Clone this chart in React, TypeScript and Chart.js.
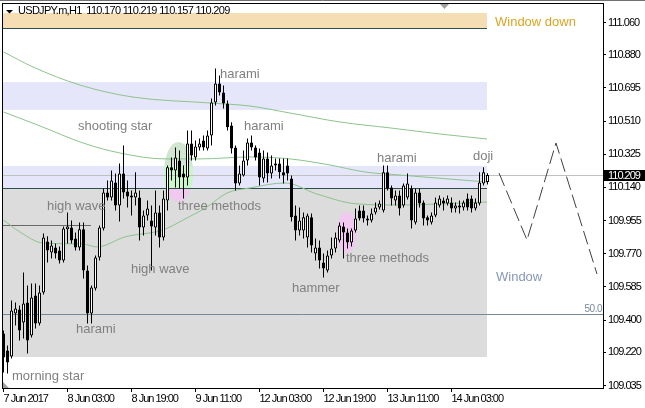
import React, { useEffect, useRef } from "react";
import { Chart, registerables } from "chart.js";

Chart.register(...registerables);

// ---- candle data (USDJPY.m, H1) ----
const opens = [
  109.325, 109.230, 109.197, 109.436, 109.459, 109.387, 109.498, 109.314, 109.537, 109.381,
  109.554, 109.838, 109.777, 109.805, 109.788, 109.732, 109.906, 109.917, 109.855, 109.805,
  109.906, 109.677, 109.436, 109.576, 109.749, 109.911, 110.112, 110.084, 110.168, 110.039,
  110.218, 110.117, 110.095, 110.084, 110.084, 109.917, 109.984, 109.956, 109.917, 110.000,
  109.861, 110.067, 110.252, 110.235, 110.290, 110.218, 110.196, 110.385, 110.307, 110.363,
  110.402, 110.357, 110.430, 110.614, 110.720, 110.670, 110.608, 110.486, 110.363, 110.162,
  110.207, 110.290, 110.391, 110.363, 110.335, 110.190, 110.301, 110.218, 110.263, 110.274,
  110.224, 110.263, 110.190, 109.984, 109.900, 109.900, 109.861, 109.973, 109.771, 109.805,
  109.721, 109.677, 109.760, 109.799, 109.844, 109.922, 109.889, 109.833, 109.900, 110.011,
  110.011, 109.956, 109.956, 110.000, 110.028, 110.011, 110.224, 110.140, 110.067, 110.095,
  110.039, 110.084, 110.134, 109.945, 110.112, 110.056, 109.973, 109.945, 109.984, 110.039,
  110.067, 110.050, 110.056, 110.022, 110.039, 110.028, 110.078, 110.078, 110.022, 110.050,
  110.162, 110.170,
];
const highs = [
  109.342, 109.258, 109.509, 109.498, 109.481, 109.666, 109.593, 109.604, 109.604, 109.593,
  109.883, 109.867, 109.844, 109.827, 109.810, 109.922, 110.000, 109.956, 109.889, 109.945,
  109.945, 109.704, 109.593, 109.760, 109.928, 110.134, 110.179, 110.235, 110.218, 110.274,
  110.374, 110.179, 110.123, 110.224, 110.123, 110.011, 110.067, 110.039, 110.123, 110.039,
  110.123, 110.263, 110.307, 110.363, 110.346, 110.263, 110.458, 110.458, 110.402, 110.413,
  110.430, 110.458, 110.636, 110.804, 110.765, 110.709, 110.625, 110.503, 110.374, 110.263,
  110.346, 110.413, 110.430, 110.374, 110.357, 110.346, 110.335, 110.318, 110.301, 110.301,
  110.301, 110.301, 110.207, 110.039, 110.028, 110.000, 109.995, 109.995, 109.855, 109.844,
  109.771, 109.788, 109.861, 109.889, 109.945, 109.945, 109.911, 109.911, 110.022, 110.039,
  110.039, 109.984, 110.022, 110.056, 110.067, 110.263, 110.263, 110.151, 110.123, 110.123,
  110.162, 110.218, 110.151, 110.134, 110.134, 110.067, 109.984, 110.000, 110.084, 110.095,
  110.084, 110.095, 110.084, 110.056, 110.067, 110.067, 110.106, 110.095, 110.078, 110.224,
  110.252, 110.219,
];
const lows = [
  109.108, 109.102, 109.185, 109.370, 109.286, 109.297, 109.213, 109.303, 109.353, 109.370,
  109.543, 109.721, 109.743, 109.743, 109.715, 109.721, 109.827, 109.827, 109.788, 109.788,
  109.632, 109.381, 109.381, 109.565, 109.732, 109.900, 110.067, 110.067, 110.011, 109.950,
  110.078, 110.028, 109.984, 110.039, 109.844, 109.872, 109.956, 109.677, 109.872, 109.805,
  109.844, 110.011, 110.179, 110.140, 110.134, 110.078, 110.151, 110.290, 110.290, 110.346,
  110.346, 110.346, 110.374, 110.597, 110.653, 110.580, 110.458, 110.329, 110.123, 110.151,
  110.201, 110.263, 110.346, 110.290, 110.151, 110.168, 110.168, 110.190, 110.235, 110.190,
  110.162, 110.179, 109.950, 109.844, 109.872, 109.855, 109.805, 109.777, 109.732, 109.688,
  109.637, 109.666, 109.743, 109.777, 109.833, 109.743, 109.799, 109.810, 109.889, 109.956,
  109.945, 109.928, 109.945, 109.989, 110.017, 110.000, 110.123, 110.039, 110.039, 109.984,
  110.028, 110.073, 109.911, 109.933, 110.028, 109.928, 109.928, 109.933, 109.973, 110.028,
  110.011, 110.039, 110.000, 110.000, 109.995, 110.011, 110.011, 110.000, 110.011, 110.039,
  110.151, 110.157,
];
const closes = [
  109.191, 109.164, 109.453, 109.464, 109.342, 109.492, 109.286, 109.526, 109.381, 109.554,
  109.861, 109.788, 109.816, 109.771, 109.732, 109.911, 109.922, 109.844, 109.805, 109.906,
  109.677, 109.436, 109.582, 109.749, 109.917, 110.112, 110.084, 110.179, 110.039, 110.218,
  110.112, 110.089, 110.084, 110.112, 109.917, 109.984, 110.022, 109.922, 110.000, 109.861,
  110.078, 110.252, 110.235, 110.307, 110.196, 110.196, 110.385, 110.318, 110.368, 110.385,
  110.363, 110.430, 110.614, 110.720, 110.670, 110.608, 110.475, 110.357, 110.162, 110.218,
  110.290, 110.391, 110.363, 110.307, 110.196, 110.301, 110.218, 110.263, 110.274, 110.224,
  110.207, 110.218, 109.973, 109.900, 109.956, 109.973, 109.984, 109.816, 109.805, 109.732,
  109.688, 109.760, 109.799, 109.861, 109.928, 109.889, 109.833, 109.900, 109.967, 109.967,
  109.967, 109.967, 109.995, 110.028, 110.050, 110.224, 110.134, 110.078, 110.095, 110.022,
  110.151, 110.162, 109.956, 110.112, 110.050, 109.967, 109.956, 109.984, 110.056, 110.078,
  110.050, 110.078, 110.022, 110.039, 110.028, 110.056, 110.028, 110.022, 110.056, 110.168,
  110.224, 110.209,
];

// ---- axes ----
const xTickIdx = [0, 16, 32, 48, 64, 80, 96, 112];
const xTickLabels = ["7 Jun 2017", "8 Jun 03:00", "8 Jun 19:00", "9 Jun 11:00", "12 Jun 03:00", "12 Jun 19:00", "13 Jun 11:00", "14 Jun 03:00"];
const yTicks = [109.035, 109.22, 109.4, 109.585, 109.77, 109.955, 110.14, 110.325, 110.51, 110.695, 110.88, 111.06];

// ---- moving averages (read at sample bars) ----
const maSlowIdx = [0, 7.375, 19.125, 32.375, 51.625, 61.625, 71.625, 84.125, 96.625, 109.125, 120.875];
const maSlowVal = [110.896, 110.812, 110.711, 110.644, 110.611, 110.594, 110.555, 110.505, 110.472, 110.438, 110.41];
const maMidIdx = [0, 9.125, 19.875, 29.125, 40.375, 49.125, 61.625, 71.625, 81.625, 90.375, 99.125, 120.875];
const maMidVal = [110.561, 110.483, 110.388, 110.332, 110.299, 110.299, 110.31, 110.299, 110.265, 110.226, 110.209, 110.17];
const maFastIdx = [0, 4.125, 9.875, 19.875, 23.375, 30.375, 39.875, 45.875, 50.875, 55.875, 61.625, 70.375, 78.375, 88.375, 99.125, 109.125, 120.875];
const maFastVal = [109.958, 109.891, 109.83, 109.824, 109.808, 109.864, 109.903, 109.97, 110.031, 110.109, 110.137, 110.165, 110.103, 110.048, 110.042, 110.048, 110.059];

// ---- projected zigzag ----
const zzIdx = [123.875, 130.875, 138.125, 148.375];
const zzVal = [110.2205, 109.8467, 110.3878, 109.657];

// ---- objects: rectangles (price ranges), lines, ellipses ----
const bandTop = [111.1147, 110.7292, 110.2595, 110.134];
const bandBottom = [111.0266, 110.5719, 110.134, 109.194];
const bandEndIdx = 120.9;
const hLinePrice = [111.0266, 110.134, 109.9276, 109.4311, 110.209];
const hLineEnd = [120.9, 120.9, 21.875, null, null];
const ellIdx = [43.75, 85.875];
const ellPrice = [110.226, 109.8885];
const ellHalfBars = [3.625, 2.5];
const ellHalfPrice = [0.1674, 0.1144];

// ---- pattern labels ----
const noteText = ["harami", "harami", "shooting star", "high wave", "three methods", "high wave", "harami", "morning star", "hammer", "three methods", "harami", "doji"];
const noteIdx = [54.125, 60.125, 18.625, 10.875, 43.625, 31.875, 18.125, 2.125, 72.125, 85.625, 93.375, 117.375];
const notePrice = [110.7504, 110.4603, 110.4603, 110.0141, 110.0141, 109.6626, 109.3279, 109.0657, 109.5566, 109.724, 110.2818, 110.293];
const windowText = ["Window down", "Window"];
const windowIdx = [122.875, 123.125];
const windowPrice = [111.0405, 109.618];

const AXISFONT = '"Liberation Sans", Arial, sans-serif';
const SANS = '"Liberation Sans", Arial, sans-serif';
const bandColors = ["#f5deb3", "#e6e6fa", "#e6e6fa", "#dcdcdc"];
const ellBandColors = ["#f0d0a8", "#c8f8c8", "#c8f8c8", "#f0c8f0"];
const hLineColors = ["#2f4f4f", "#2f4f4f", "#696969", "#778899", "#c0c0c0"];
const windowColors = ["#daa520", "#8797b8"];
const maColor = "#8cc48c";

const overlay = {
  id: "overlay",
  beforeDraw(chart: any) {
    (chart.ctx as any).letterSpacing = "-1px";
  },
  beforeDatasetsDraw(chart: any) {
    const { ctx, chartArea: a, scales } = chart;
    const X = (v: number) => scales.x.getPixelForValue(v);
    const Y = (v: number) => scales.y.getPixelForValue(v);
    ctx.save();
    ctx.letterSpacing = "0px";
    ctx.beginPath();
    ctx.rect(a.left, a.top, a.right - a.left, a.bottom - a.top);
    ctx.clip();
    const xEnd = Math.round(X(bandEndIdx));
    const bandRects = bandTop.map((t, k) => {
      const y0 = Math.round(Y(t));
      const y1 = Math.round(Y(bandBottom[k]));
      return [a.left, y0, xEnd - a.left, y1 - y0];
    });
    bandRects.forEach((r, k) => {
      ctx.fillStyle = bandColors[k];
      ctx.fillRect(r[0], r[1], r[2], r[3]);
    });
    // ellipses (xor-like tint depending on background)
    ellIdx.forEach((ix, k) => {
      const cx = X(ix);
      const cy = Y(ellPrice[k]);
      const rx = X(ix + ellHalfBars[k]) - cx;
      const ry = Y(ellPrice[k] - ellHalfPrice[k]) - cy;
      ctx.save();
      ctx.beginPath();
      ctx.ellipse(cx, cy, rx, ry, 0, 0, Math.PI * 2);
      ctx.clip();
      ctx.fillStyle = "#d0e6d0";
      ctx.fillRect(cx - rx - 1, cy - ry - 1, 2 * rx + 2, 2 * ry + 2);
      bandRects.forEach((r, b) => {
        ctx.fillStyle = ellBandColors[b];
        ctx.fillRect(r[0], r[1], r[2], r[3]);
      });
      ctx.restore();
    });
    // horizontal lines
    ctx.lineWidth = 1;
    hLinePrice.forEach((p, k) => {
      const y = Math.floor(Y(p)) + 0.5;
      const e = hLineEnd[k];
      const x1 = e == null ? a.right : Math.round(X(e));
      ctx.strokeStyle = hLineColors[k];
      ctx.beginPath();
      ctx.moveTo(a.left, y);
      ctx.lineTo(x1, y);
      ctx.stroke();
    });
    // 50.0 label of the fibo level
    ctx.font = `10px ${AXISFONT}`;
    ctx.letterSpacing = "-0.5px";
    ctx.fillStyle = "#778899";
    ctx.textAlign = "right";
    ctx.textBaseline = "alphabetic";
    ctx.fillText("50.0", a.right - 1, Math.floor(Y(hLinePrice[3])) - 2);
    ctx.restore();
  },
  afterDatasetsDraw(chart: any) {
    const { ctx, chartArea: a, scales } = chart;
    const X = (v: number) => scales.x.getPixelForValue(v);
    const Y = (v: number) => scales.y.getPixelForValue(v);
    ctx.save();
    ctx.letterSpacing = "0px";
    ctx.beginPath();
    ctx.rect(a.left, a.top, a.right - a.left, a.bottom - a.top);
    ctx.clip();
    ctx.textAlign = "left";
    ctx.textBaseline = "alphabetic";
    ctx.font = `13px ${SANS}`;
    ctx.fillStyle = "#808080";
    noteText.forEach((t, k) => ctx.fillText(t, X(noteIdx[k]), Y(notePrice[k])));
    windowText.forEach((t, k) => {
      ctx.fillStyle = windowColors[k];
      ctx.fillText(t, X(windowIdx[k]), Y(windowPrice[k]));
    });
    ctx.restore();
  },
  afterDraw(chart: any) {
    const { ctx, chartArea: a, scales } = chart;
    const Y = (v: number) => scales.y.getPixelForValue(v);
    const X = (v: number) => scales.x.getPixelForValue(v);
    const n = closes.length;
    ctx.save();
    // frame
    ctx.strokeStyle = "#000";
    ctx.lineWidth = 1;
    ctx.beginPath();
    ctx.moveTo(a.left + 0.5, a.top);
    ctx.lineTo(a.left + 0.5, a.bottom + 1);
    ctx.moveTo(a.left, a.top + 0.5);
    ctx.lineTo(a.right + 1, a.top + 0.5);
    ctx.stroke();
    ctx.strokeStyle = "#707070";
    ctx.beginPath();
    ctx.moveTo(0, 0.5);
    ctx.lineTo(645, 0.5);
    ctx.stroke();
    // chart shift marker
    const sx = Math.round(X(110.125));
    ctx.fillStyle = "#a0a0a0";
    ctx.beginPath();
    ctx.moveTo(sx - 4, a.top + 1);
    ctx.lineTo(sx + 5, a.top + 1);
    ctx.lineTo(sx + 0.5, a.top + 6);
    ctx.closePath();
    ctx.fill();
    // corner marker
    ctx.beginPath();
    ctx.moveTo(a.left + 1, a.bottom);
    ctx.lineTo(a.left + 1, a.bottom - 6);
    ctx.lineTo(a.left + 7, a.bottom);
    ctx.closePath();
    ctx.fill();
    // header
    ctx.fillStyle = "#000";
    ctx.beginPath();
    ctx.moveTo(6, 10);
    ctx.lineTo(13, 10);
    ctx.lineTo(9.5, 13.5);
    ctx.closePath();
    ctx.fill();
    ctx.font = `11px ${AXISFONT}`;
    ctx.letterSpacing = "-0.7px";
    ctx.textAlign = "left";
    ctx.textBaseline = "alphabetic";
    const hdr = `USDJPY.m,H1  ${opens[n - 1].toFixed(3)} ${highs[n - 1].toFixed(3)} ${lows[n - 1].toFixed(3)} ${closes[n - 1].toFixed(3)}`;
    ctx.fillText(hdr, 18, 14);
    // current price label
    const py = Math.floor(Y(closes[n - 1]));
    ctx.fillStyle = "#000";
    ctx.fillRect(a.right + 1, py - 5, 42, 11);
    ctx.fillStyle = "#fff";
    ctx.letterSpacing = "-1px";
    ctx.textBaseline = "middle";
    ctx.fillText(closes[n - 1].toFixed(3), a.right + 5, py + 1);
    ctx.restore();
    (ctx as any).letterSpacing = "0px";
  },
};

export default function App() {
  const ref = useRef<HTMLCanvasElement>(null);
  useEffect(() => {
    document.body.style.margin = "0";
    const canvas = ref.current as HTMLCanvasElement;
    const idx = opens.map((_, i) => i);
    const up = idx.map((i) => closes[i] >= opens[i]);
    const chart = new Chart(canvas, {
      type: "bar",
      data: {
        datasets: [
          {
            type: "bar",
            label: "body",
            data: idx.map((i) => ({ x: i, y: [Math.min(opens[i], closes[i]), Math.max(opens[i], closes[i])] })) as any,
            backgroundColor: idx.map((i) => (up[i] ? "#ffffff" : "#000000")),
            borderColor: "#000000",
            borderWidth: 1,
            borderSkipped: false,
            barThickness: 3,
            grouped: false,
            minBarLength: 1,
            inflateAmount: 0,
            order: 0,
          } as any,
          {
            type: "bar",
            label: "wick",
            data: idx.map((i) => ({ x: i, y: [lows[i], highs[i]] })) as any,
            backgroundColor: "#000000",
            borderWidth: 0,
            barThickness: 1,
            grouped: false,
            inflateAmount: 0,
            order: 1,
          } as any,
          {
            type: "line",
            label: "ma slow",
            data: maSlowIdx.map((v, k) => ({ x: v, y: maSlowVal[k] })),
            borderColor: maColor,
            borderWidth: 1,
            pointRadius: 0,
            cubicInterpolationMode: "monotone",
            order: 2,
          } as any,
          {
            type: "line",
            label: "ma mid",
            data: maMidIdx.map((v, k) => ({ x: v, y: maMidVal[k] })),
            borderColor: maColor,
            borderWidth: 1,
            pointRadius: 0,
            cubicInterpolationMode: "monotone",
            order: 2,
          } as any,
          {
            type: "line",
            label: "ma fast",
            data: maFastIdx.map((v, k) => ({ x: v, y: maFastVal[k] })),
            borderColor: maColor,
            borderWidth: 1,
            pointRadius: 0,
            cubicInterpolationMode: "monotone",
            order: 2,
          } as any,
          {
            type: "line",
            label: "zigzag",
            data: zzIdx.map((v, k) => ({ x: v, y: zzVal[k] })),
            borderColor: "#404040",
            borderWidth: 1,
            borderDash: [14, 5],
            pointRadius: 0,
            tension: 0,
            order: 2,
          } as any,
        ],
      },
      options: {
        responsive: false,
        animation: false,
        devicePixelRatio: 1,
        events: [],
        layout: { padding: { left: 2, top: 3, right: 0, bottom: 0 } },
        plugins: { legend: { display: false }, tooltip: { enabled: false } },
        scales: {
          x: {
            type: "linear",
            min: -0.375,
            max: 149.875,
            offset: false,
            position: "bottom",
            grid: { display: true, offset: false, drawOnChartArea: false, drawTicks: true, tickLength: 4, color: "#000" },
            border: { display: true, color: "#000", width: 1 },
            ticks: {
              autoSkip: false,
              maxRotation: 0,
              minRotation: 0,
              align: "start",
              padding: 0,
              color: "#000",
              font: { family: AXISFONT, size: 11 },
              callback: (_v: any, i: number) => xTickLabels[i] ?? "",
            },
            afterBuildTicks: (s: any) => {
              s.ticks = xTickIdx.map((v) => ({ value: v }));
            },
            afterFit: (s: any) => {
              s.height = 20;
              s.paddingLeft = 0;
              s.paddingRight = 0;
              s.paddingTop = 0;
              s.paddingBottom = 0;
            },
          },
          y: {
            type: "linear",
            position: "right",
            min: 109.0211,
            max: 111.1688,
            beginAtZero: false,
            grid: { display: true, drawOnChartArea: false, drawTicks: true, tickLength: 3, color: "#000" },
            border: { display: true, color: "#000", width: 1 },
            ticks: {
              autoSkip: false,
              padding: 2,
              color: "#000",
              font: { family: AXISFONT, size: 11 },
              callback: (v: any) => Number(v).toFixed(3),
            },
            afterBuildTicks: (s: any) => {
              s.ticks = yTicks.map((v) => ({ value: v }));
            },
            afterFit: (s: any) => {
              s.width = 42;
              s.paddingLeft = 0;
              s.paddingRight = 0;
              s.paddingTop = 0;
              s.paddingBottom = 0;
            },
          },
        },
      } as any,
      plugins: [overlay],
    });
    return () => chart.destroy();
  }, []);
  return (
    <div style={{ position: "absolute", left: 0, top: 0, width: 645, height: 408, background: "#fff" }}>
      <canvas ref={ref} width={645} height={408} style={{ display: "block", width: 645, height: 408 }} />
    </div>
  );
}
